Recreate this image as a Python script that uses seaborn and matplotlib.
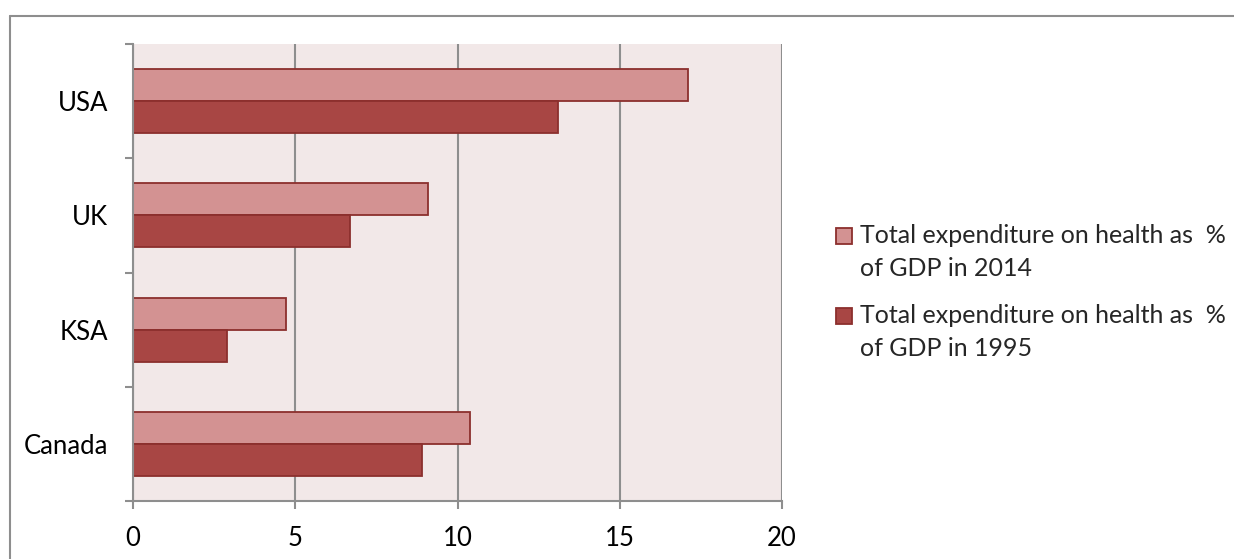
import matplotlib
matplotlib.use("Agg")
import matplotlib.pyplot as plt
import matplotlib.patches as mpatches
from matplotlib.legend_handler import HandlerPatch
from matplotlib.lines import Line2D
import seaborn as sns
import pandas as pd
import numpy as np

countries = ["USA", "UK", "KSA", "Canada"]
values_2014 = [17.1, 9.1, 4.7, 10.4]
values_1995 = [13.1, 6.7, 2.9, 8.9]
series_labels = ["Total expenditure on health as  %\nof GDP in 2014",
                 "Total expenditure on health as  %\nof GDP in 1995"]
x_ticks = [0, 5, 10, 15, 20]

df = pd.DataFrame({
    "country": countries * 2,
    "value": values_2014 + values_1995,
    "series": [series_labels[0]] * len(countries) + [series_labels[1]] * len(countries),
})

sns.set_theme(style="white")
plt.rcParams["font.family"] = ["Lato", "DejaVu Sans"]

W, H = 1234, 559
fig = plt.figure(figsize=(W / 100, H / 100), dpi=100)
ax = fig.add_axes([133 / W, 1 - 501 / H, (782 - 133) / W, (501 - 44) / H])

light = "#D39292"
dark = "#A84644"
edge = "#8C2F2D"
grid_c = "#8E8E8E"
tick_fs = 18.5
leg_fs = 18

sns.barplot(data=df, y="country", x="value", hue="series", order=countries,
            hue_order=series_labels, palette=[light, dark], width=0.56,
            orient="h", ax=ax, legend=False, edgecolor=edge, linewidth=1.3,
            saturation=1)

ax.set_facecolor("#F2E8E8")
ax.set_xlim(0, 20)
ax.set_ylim(3.5, -0.5)
ax.set_xticks(x_ticks)
ax.set_xticklabels([str(t) for t in x_ticks])
ax.xaxis.grid(True, color=grid_c, linewidth=1.5)
ax.yaxis.grid(False)
ax.set_axisbelow(True)
ax.set_xlabel("")
ax.set_ylabel("")

for s in ["top", "right"]:
    ax.spines[s].set_visible(False)
for s in ["left", "bottom"]:
    ax.spines[s].set_color(grid_c)
    ax.spines[s].set_linewidth(1.5)

ax.tick_params(axis="x", which="major", length=6, width=1.5, color=grid_c,
               direction="out", pad=12, labelsize=tick_fs, labelcolor="black", bottom=True)
ax.set_yticks(range(len(countries)))
ax.set_yticklabels(countries)
ax.set_yticks(np.arange(-0.5, len(countries), 1.0), minor=True)
ax.tick_params(axis="y", which="major", length=0, pad=18, labelsize=tick_fs, labelcolor="black")
ax.tick_params(axis="y", which="minor", length=6, width=1.5, color=grid_c,
               direction="out", left=True)


def top_aligned_box(legend, orig_handle, xdescent, ydescent, width, height, fontsize):
    return mpatches.Rectangle((-xdescent, -ydescent + 12.0), width, height)


handles = [mpatches.Patch(facecolor=light, edgecolor=edge, linewidth=1.3),
           mpatches.Patch(facecolor=dark, edgecolor=edge, linewidth=1.3)]
leg = fig.legend(handles, series_labels, loc="upper left",
                 bbox_to_anchor=(836 / W, 1 - 224 / H), frameon=False, fontsize=leg_fs,
                 handlelength=0.64, handleheight=0.64, handletextpad=0.3,
                 labelspacing=0.98, borderpad=0, borderaxespad=0,
                 handler_map={mpatches.Patch: HandlerPatch(patch_func=top_aligned_box)})
for t in leg.get_texts():
    t.set_linespacing(1.5)

# outer chart border (top and left)
fig.add_artist(Line2D([10 / W, 1.0], [1 - 16 / H, 1 - 16 / H], color=grid_c, linewidth=1.5,
                      transform=fig.transFigure))
fig.add_artist(Line2D([10 / W, 10 / W], [0.0, 1 - 16 / H], color=grid_c, linewidth=1.5,
                      transform=fig.transFigure))

fig.savefig("out.png", dpi=100, facecolor="white")
